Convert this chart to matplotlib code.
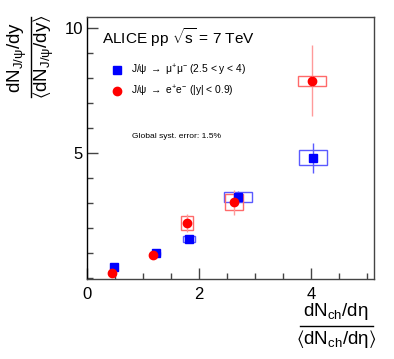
import numpy as np
import matplotlib
matplotlib.use('agg')
import matplotlib.pyplot as plt
from matplotlib.patches import Rectangle
from matplotlib.lines import Line2D
from matplotlib.ticker import MultipleLocator

plt.rcParams['font.family'] = ['Liberation Sans', 'DejaVu Sans']
plt.rcParams['mathtext.fontset'] = 'custom'
plt.rcParams['mathtext.rm'] = 'Liberation Sans'
plt.rcParams['mathtext.it'] = 'Liberation Sans'
plt.rcParams['mathtext.bf'] = 'Liberation Sans:bold'
plt.rcParams['mathtext.default'] = 'regular'

# J/psi -> mu+mu- (forward rapidity)
x_mumu = [0.48, 1.23, 1.82, 2.69, 4.03]
y_mumu = [0.44, 1.00, 1.56, 3.24, 4.81]
stat_mumu = [0.05, 0.07, 0.10, 0.25, 0.60]
sysx_mumu = [0.05, 0.08, 0.115, 0.25, 0.25]
sysy_mumu = [0.04, 0.06, 0.12, 0.20, 0.30]

# J/psi -> e+e- (mid rapidity)
x_ee = [0.45, 1.18, 1.78, 2.63, 4.02]
y_ee = [0.20, 0.92, 2.20, 3.04, 7.89]
stat_ee = [0.08, 0.12, 0.36, 0.50, 1.42]
sysx_ee = [0.04, 0.06, 0.107, 0.16, 0.25]
sysy_ee = [0.05, 0.08, 0.28, 0.32, 0.20]

W, H = 394, 359
fig = plt.figure(figsize=(W / 100, H / 100), dpi=100)
ax = fig.add_axes([87 / W, 1 - 279 / H, (374 - 87) / W, (279 - 17) / H])

def draw_series(x, y, stat, sx, sy, col, boxcol, barcol, marker, ms):
    for xi, yi, ex, ey in zip(x, y, sx, sy):
        ax.add_patch(Rectangle((xi - ex, yi - ey), 2 * ex, 2 * ey, fill=False,
                               edgecolor=boxcol, lw=1.0, zorder=2))
    ax.errorbar(x, y, yerr=stat, fmt='none', ecolor=barcol, elinewidth=1.0,
                capsize=0, zorder=3)
    ax.plot(x, y, ls='none', marker=marker, ms=ms, color=col, mec=col, zorder=4)

draw_series(x_mumu, y_mumu, stat_mumu, sysx_mumu, sysy_mumu,
            '#0000ff', '#5a5aff', '#5a5aff', 's', 5.5)
draw_series(x_ee, y_ee, stat_ee, sysx_ee, sysy_ee,
            '#ff0000', '#ff6a6a', '#ff9a9a', 'o', 6.0)

ax.set_xlim(0, 5.12)
ax.set_ylim(-0.04, 10.44)
ax.set_xticks([0, 2, 4])
ax.set_yticks([5, 10])
ax.xaxis.set_minor_locator(MultipleLocator(0.5))
ax.yaxis.set_minor_locator(MultipleLocator(1))
ax.tick_params(which='both', direction='in', top=False, right=False,
               labelsize=12, color='#444444')
ax.tick_params(which='major', length=8, width=1)
ax.tick_params(which='minor', length=4, width=1)
ax.tick_params(axis='x', pad=6)
ax.tick_params(axis='y', pad=3)
for s in ax.spines.values():
    s.set_color('#444444')
    s.set_linewidth(1.0)
ax.spines['left'].set_color('black')

ax.text(0.052, 0.92, r'ALICE pp $\sqrt{s}$ = 7 TeV', transform=ax.transAxes,
        fontsize=11.1, va='center', ha='left')
ax.text(0.157, 0.542, 'Global syst. error: 1.5%', transform=ax.transAxes,
        fontsize=6.1, va='center', ha='left')

handles = [Line2D([], [], ls='none', marker='s', ms=5.5, color='#0000ff'),
           Line2D([], [], ls='none', marker='o', ms=6.0, color='#ff0000')]
labels = [r'J/$\psi$ $\rightarrow$ $\mu^{+}\mu^{-}$ (2.5 < y < 4)',
          r'J/$\psi$ $\rightarrow$ e$^{+}$e$^{-}$ ($|$y$|$ < 0.9)']
ax.legend(handles, labels, loc='upper left', bbox_to_anchor=(0.088, 0.825),
          frameon=False, fontsize=7.4, handlelength=1.0, handletextpad=0.8,
          borderpad=0, borderaxespad=0, labelspacing=0.55)

# y axis title, built as a stacked fraction (rotated)
fs_lab = 13.5
fig.text(21 / W, 1 - 57 / H, r'$dN_{J/\psi}/dy$', rotation=90,
         rotation_mode='anchor', ha='center', va='baseline', fontsize=fs_lab)
fig.add_artist(Line2D([31 / W, 31 / W], [1 - 17 / H, 1 - 97 / H],
                      transform=fig.transFigure, color='black', lw=1.0))
fig.text(48 / W, 1 - 57 / H, r'$\langle dN_{J/\psi}/dy\rangle$', rotation=90,
         rotation_mode='anchor', ha='center', va='baseline', fontsize=fs_lab)

# x axis title, stacked fraction at the bottom right
fig.text(336 / W, 1 - 316 / H, r'$dN_{ch}/d\eta$',
         ha='center', va='baseline', fontsize=fs_lab)
fig.add_artist(Line2D([300 / W, 373 / W], [1 - 326 / H, 1 - 326 / H],
                      transform=fig.transFigure, color='black', lw=1.0))
fig.text(336 / W, 1 - 344 / H, r'$\langle dN_{ch}/d\eta\rangle$',
         ha='center', va='baseline', fontsize=fs_lab)

fig.savefig('out.png', dpi=100)
